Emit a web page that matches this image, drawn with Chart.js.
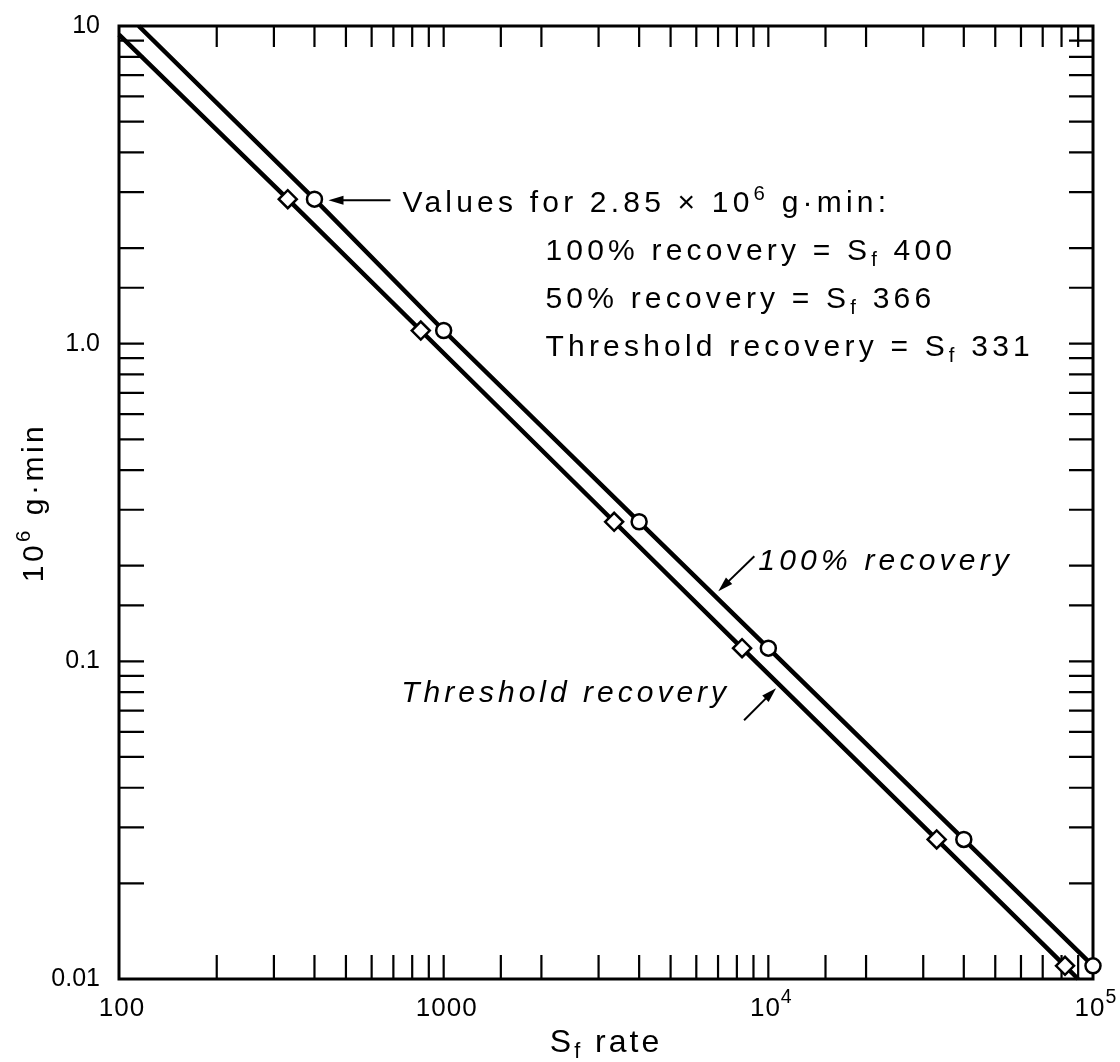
<!DOCTYPE html>
<html>
<head>
<meta charset="utf-8">
<script src="https://cdn.jsdelivr.net/npm/chart.js@4.4.0/dist/chart.umd.min.js"></script>
<style>
  html, body { margin: 0; padding: 0; background: #fff; }
</style>
</head>
<body>
<canvas id="chart" width="1120" height="1062"></canvas>
<script>
// values: S_f rate (x) against 10^6 g·min (y)
const fullX = [115, 400, 1000, 4000, 10000, 40000, 100000];
const fullY = [10, 2.85, 1.1, 0.275, 0.11, 0.0275, 0.011];
const fullMarked = [false, true, true, true, true, true, true];

const threshX = [100, 331, 850, 3350, 8300, 33000, 82000, 90000];
const threshY = [9.4, 2.85, 1.1, 0.275, 0.11, 0.0275, 0.011, 0.01];
const threshMarked = [false, true, true, true, true, true, true, false];

// "^" marks a superscript
const xTickValues = [100, 1000, 10000, 100000];
const xTickLabels = ['100', '1000', '10^4', '10^5'];
const yTickValues = [0.01, 0.1, 1, 10];
const yTickLabels = ['0.01', '0.1', '1.0', '10'];

// note text, split into runs so S_f and 10^6 get their sub/superscripts
const noteLines = [
  [['Values for 2.85 × 10'], ['6', 'sup'], [' g·min:']],
  [['100% recovery = S'], ['f', 'sub'], [' 400']],
  [['50% recovery = S'], ['f', 'sub'], [' 366']],
  [['Threshold recovery = S'], ['f', 'sub'], [' 331']]
];
const fullLabel = '100% recovery';
const threshLabel = 'Threshold recovery';
const xTitle = [['S'], ['f', 'sub'], [' rate']];
const yTitle = [['10'], ['6', 'sup'], [' g·min']];

const FONT = '"Liberation Sans", Arial, Helvetica, sans-serif';

function pickLabel(values, labels, v) {
  const i = values.findIndex(t => Math.abs(t - v) / t < 1e-6);
  return i >= 0 ? labels[i] : '';
}

function toRuns(label) {
  const p = label.split('^');
  return p.length > 1 ? [[p[0]], [p[1], 'sup']] : [[p[0]]];
}

function runsWidth(ctx, runs, size, style, supScale = 0.68) {
  let w = 0;
  runs.forEach(r => {
    const s = r[1] ? size * supScale : size;
    ctx.font = style + ' ' + s + 'px ' + FONT;
    w += ctx.measureText(r[0]).width;
  });
  return w;
}

function drawRuns(ctx, x, y, runs, size, style, supScale = 0.68, supRise = 0.42) {
  let cx = x;
  runs.forEach(r => {
    const s = r[1] ? size * supScale : size;
    const dy = r[1] === 'sup' ? -size * supRise : r[1] === 'sub' ? size * 0.2 : 0;
    ctx.font = style + ' ' + s + 'px ' + FONT;
    ctx.fillText(r[0], cx, y + dy);
    cx += ctx.measureText(r[0]).width;
  });
}

function arrow(ctx, x1, y1, x2, y2) {
  const ang = Math.atan2(y2 - y1, x2 - x1);
  const hl = 15, hw = 4.5;
  ctx.beginPath();
  ctx.moveTo(x1, y1);
  ctx.lineTo(x2 - Math.cos(ang) * hl * 0.7, y2 - Math.sin(ang) * hl * 0.7);
  ctx.stroke();
  ctx.beginPath();
  ctx.moveTo(x2, y2);
  ctx.lineTo(x2 - Math.cos(ang) * hl - Math.sin(ang) * hw, y2 - Math.sin(ang) * hl + Math.cos(ang) * hw);
  ctx.lineTo(x2 - Math.cos(ang) * hl + Math.sin(ang) * hw, y2 - Math.sin(ang) * hl - Math.cos(ang) * hw);
  ctx.closePath();
  ctx.fill();
}

// box and inward tick marks on all four sides
const frame = {
  id: 'frame',
  beforeDatasetsDraw(chart) {
    const { ctx, chartArea: a, scales: { x, y } } = chart;
    ctx.save();
    ctx.strokeStyle = '#000';
    ctx.lineWidth = 2.2;
    ctx.beginPath();
    x.ticks.forEach(t => {
      const px = x.getPixelForValue(t.value);
      if (px < a.left + 2 || px > a.right - 2) return;
      ctx.moveTo(px, a.bottom); ctx.lineTo(px, a.bottom - 24);
      ctx.moveTo(px, a.top); ctx.lineTo(px, a.top + 21);
    });
    y.ticks.forEach(t => {
      const py = y.getPixelForValue(t.value);
      if (py < a.top + 2 || py > a.bottom - 2) return;
      ctx.moveTo(a.left, py); ctx.lineTo(a.left + 25, py);
      ctx.moveTo(a.right, py); ctx.lineTo(a.right - 24, py);
    });
    ctx.stroke();
    ctx.lineWidth = 3;
    ctx.strokeRect(a.left, a.top, a.right - a.left, a.bottom - a.top);
    ctx.restore();
  }
};

// x tick labels, axis titles and the notes with arrows
const notes = {
  id: 'notes',
  afterDraw(chart) {
    const { ctx, chartArea: a, scales: { x, y } } = chart;
    const px = (vx, vy) => ({ x: x.getPixelForValue(vx), y: y.getPixelForValue(vy) });
    ctx.save();
    ctx.fillStyle = '#000';
    ctx.strokeStyle = '#000';
    ctx.lineWidth = 2;
    ctx.textBaseline = 'alphabetic';
    ctx.textAlign = 'left';

    // x tick labels with real superscripts
    ctx.letterSpacing = '1px';
    xTickValues.forEach((v, i) => {
      const runs = toRuns(xTickLabels[i]);
      const w = runsWidth(ctx, runs, 26, 'normal', 0.75);
      drawRuns(ctx, x.getPixelForValue(v) - w / 2 + 3, a.bottom + 37, runs, 26, 'normal', 0.75, 0.5);
    });

    // "Values for ..." block pointing at the first circle
    ctx.letterSpacing = '4.2px';
    const A = px(fullX[1], fullY[1]);
    arrow(ctx, A.x + 76, A.y + 1, A.x + 14, A.y + 1);
    drawRuns(ctx, A.x + 88, A.y + 13, noteLines[0], 30, 'normal');
    for (let i = 1; i < noteLines.length; i++) {
      drawRuns(ctx, A.x + 231, A.y + 13 + 48 * i, noteLines[i], 30, 'normal');
    }

    // line labels
    const B = px(fullX[4], fullY[4]);
    arrow(ctx, B.x - 14, B.y - 92, B.x - 50, B.y - 57);
    drawRuns(ctx, B.x - 10, B.y - 78, [[fullLabel]], 30, 'italic');

    const C = px(threshX[4], threshY[4]);
    arrow(ctx, C.x + 2, C.y + 72, C.x + 34, C.y + 40);
    ctx.letterSpacing = '4px';
    const tw = runsWidth(ctx, [[threshLabel]], 30, 'italic');
    drawRuns(ctx, C.x - 12 - tw, C.y + 54, [[threshLabel]], 30, 'italic');

    // x title
    ctx.letterSpacing = '3px';
    const xw = runsWidth(ctx, xTitle, 32, 'normal');
    drawRuns(ctx, (a.left + a.right) / 2 - xw / 2, 1052, xTitle, 32, 'normal');

    // y title, rotated
    ctx.letterSpacing = '3.5px';
    const yw = runsWidth(ctx, yTitle, 30, 'normal');
    ctx.translate(43, (a.top + a.bottom) / 2);
    ctx.rotate(-Math.PI / 2);
    drawRuns(ctx, -yw / 2, 0, yTitle, 30, 'normal');
    ctx.restore();
  }
};

const toPoints = (xs, ys) => xs.map((v, i) => ({ x: v, y: ys[i] }));

new Chart(document.getElementById('chart'), {
  type: 'line',
  data: {
    datasets: [
      {
        label: fullLabel,
        data: toPoints(fullX, fullY),
        borderColor: '#000',
        borderWidth: 4.5,
        pointStyle: 'circle',
        pointRadius: fullMarked.map(m => m ? 7.5 : 0),
        pointBorderWidth: 2.5,
        pointBorderColor: '#000',
        pointBackgroundColor: '#fff',
        tension: 0,
        fill: false,
        clip: false
      },
      {
        label: threshLabel,
        data: toPoints(threshX, threshY),
        borderColor: '#000',
        borderWidth: 4.5,
        pointStyle: 'rectRot',
        pointRadius: threshMarked.map(m => m ? 9 : 0),
        pointBorderWidth: 2.5,
        pointBorderColor: '#000',
        pointBackgroundColor: '#fff',
        tension: 0,
        fill: false,
        clip: false
      }
    ]
  },
  options: {
    responsive: false,
    devicePixelRatio: 1,
    animation: false,
    layout: { padding: { left: 0, top: 22, right: 27, bottom: 0 } },
    plugins: {
      legend: { display: false },
      tooltip: { enabled: false }
    },
    scales: {
      x: {
        type: 'logarithmic',
        min: 100,
        max: 100000,
        grid: { display: false },
        border: { display: false },
        ticks: { display: false, autoSkip: false },
        afterFit: s => { s.height = 83; }
      },
      y: {
        type: 'logarithmic',
        min: 0.01,
        max: 10,
        grid: { display: false },
        border: { display: false },
        ticks: {
          autoSkip: false,
          padding: 11,
          color: '#000',
          font: { family: FONT, size: 25 },
          callback: v => pickLabel(yTickValues, yTickLabels, v)
        },
        afterFit: s => { s.width = 119; }
      }
    }
  },
  plugins: [frame, notes]
});
</script>
</body>
</html>
